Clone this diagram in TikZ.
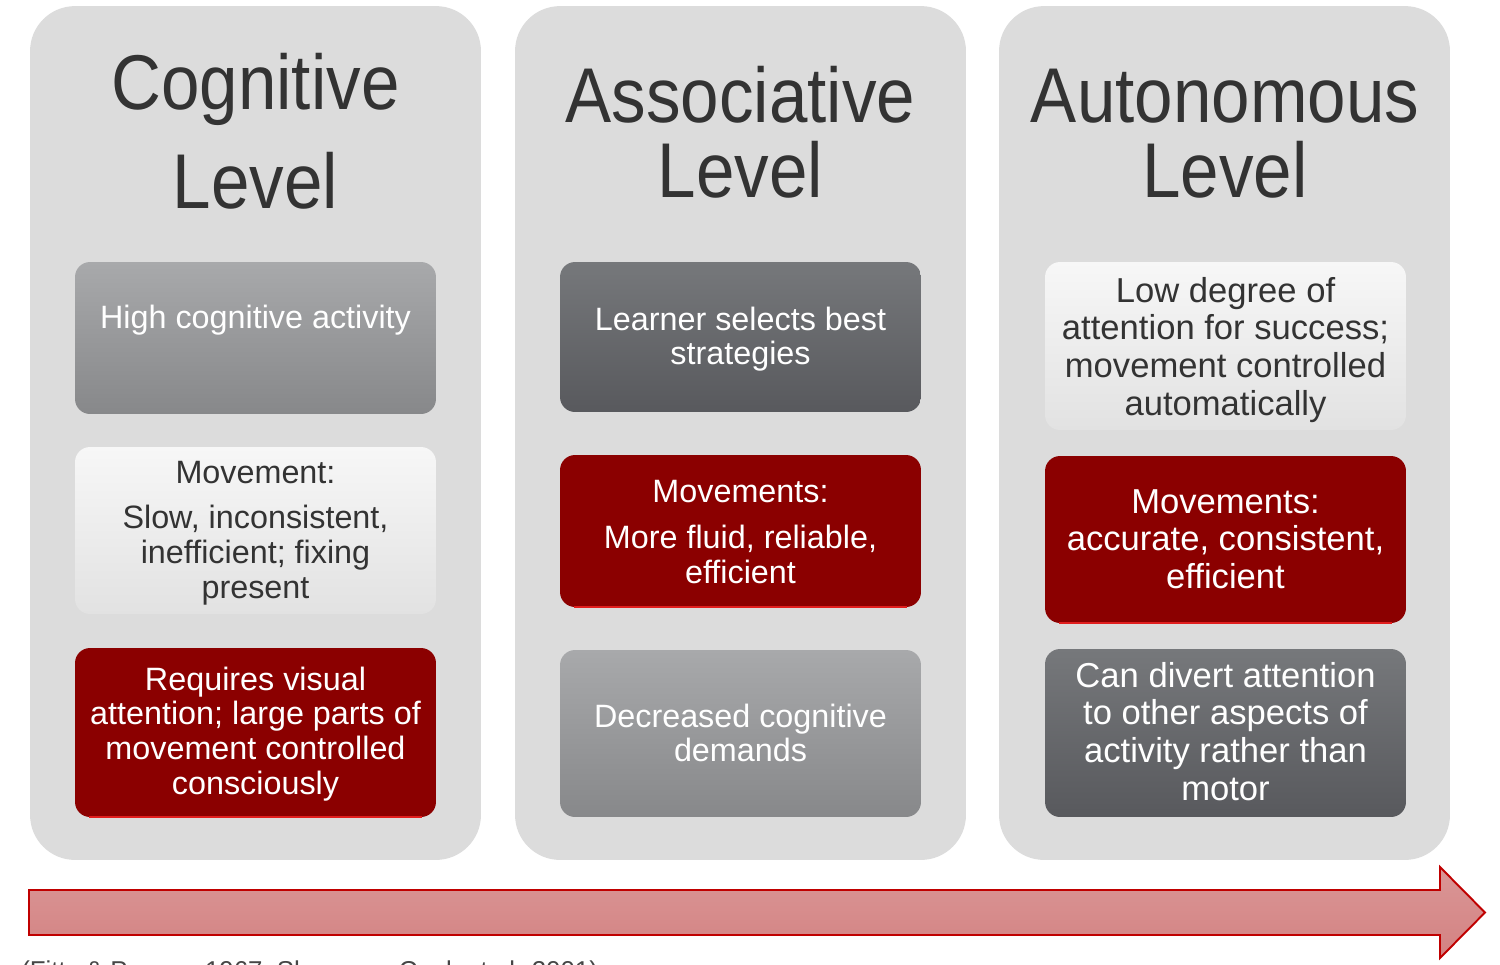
\documentclass[tikz,border=0pt]{standalone}
\usepackage{fontspec}
\setmainfont{Liberation Sans}
\newfontfamily\titlefont[FakeStretch=0.89]{Liberation Sans}
\usetikzlibrary{calc}
\definecolor{panelgray}{RGB}{220,220,220}
\definecolor{txtdark}{RGB}{51,51,51}
\definecolor{lgtop}{RGB}{168,169,171}
\definecolor{lgbot}{RGB}{135,136,138}
\definecolor{dgtop}{RGB}{118,120,123}
\definecolor{dgbot}{RGB}{88,89,93}
\definecolor{wtop}{RGB}{247,247,247}
\definecolor{wbot}{RGB}{226,226,226}
\definecolor{boxred}{RGB}{139,0,0}
\definecolor{edgered}{RGB}{225,30,30}
\definecolor{arrowtop}{RGB}{218,150,150}
\definecolor{arrowbot}{RGB}{211,130,130}
\definecolor{arrowline}{RGB}{192,0,0}
\definecolor{citegray}{RGB}{70,70,70}
\newcommand{\mlines}[1]{\begin{tabular}[t]{@{}c@{}}#1\end{tabular}}
\begin{document}
\begin{tikzpicture}[x=0.02cm,y=-0.02cm,
  panel/.style={fill=panelgray, rounded corners=0.9cm, minimum width=9.02cm, minimum height=17.08cm, inner sep=0},
  card/.style={rounded corners=0.3cm, minimum width=7.22cm, inner sep=0},
  lightcard/.style={card, top color=lgtop, bottom color=lgbot},
  darkcard/.style={card, top color=dgtop, bottom color=dgbot},
  whitecard/.style={card, top color=wtop, bottom color=wbot},
  redcard/.style={card, fill=boxred},
  redline/.style={draw=edgered, line width=1.1pt},
  titletext/.style={anchor=base, text=txtdark, inner sep=0, font=\titlefont\fontsize{44.2}{50}\selectfont},
  smalltext/.style={anchor=base, inner sep=0, font=\fontsize{18.4}{19.8}\selectfont},
  bigtext/.style={anchor=base, inner sep=0, font=\fontsize{19.7}{21.5}\selectfont},
  onlight/.style={text=txtdark},
  ondark/.style={text=white},
  arrowshape/.style={draw=arrowline, line width=1.1pt, top color=arrowtop, bottom color=arrowbot}
]
\useasboundingbox (0,0) rectangle (1500,964);
\clip (0,0) rectangle (1500,964);

% panels
\node[panel] (p1) at (255.5,433) {};
\node[panel] (p2) at (740.5,433) {};
\node[panel] (p3) at (1224.5,433) {};

% titles
\node[titletext] (t1a) at (255.5,109) {Cognitive};
\node[titletext] (t1b) at (255.5,208) {Level};
\node[titletext] (t2a) at (740.5,122) {Associative};
\node[titletext] (t2b) at (740.5,197) {Level};
\node[titletext] (t3a) at (1225,122) {Autonomous};
\node[titletext] (t3b) at (1225,197) {Level};

% cards, column 1
\node[lightcard, minimum height=3.04cm] (L1) at (255.5,338) {};
\node[whitecard, minimum height=3.34cm] (L2) at (255.5,530.5) {};
\node[redcard, minimum height=3.38cm] (L3) at (255.5,732.5) {};
\draw[redline] ($(L3.south west)+(14,-0.5)$) -- ($(L3.south east)+(-14,-0.5)$);

% cards, column 2
\node[darkcard, minimum height=3.0cm] (M1) at (740.5,337) {};
\node[redcard, minimum height=3.04cm] (M2) at (740.5,531) {};
\node[lightcard, minimum height=3.34cm] (M3) at (740.5,733.5) {};
\draw[redline] ($(M2.south west)+(14,-0.5)$) -- ($(M2.south east)+(-14,-0.5)$);

% cards, column 3
\node[whitecard, minimum height=3.36cm] (R1) at (1225.5,346) {};
\node[redcard, minimum height=3.34cm] (R2) at (1225.5,539.5) {};
\node[darkcard, minimum height=3.36cm] (R3) at (1225.5,733) {};
\draw[redline] ($(R2.south west)+(14,-0.5)$) -- ($(R2.south east)+(-14,-0.5)$);

% texts, column 1
\node[smalltext, ondark] (L1t) at (255.5,328) {High cognitive activity};
\node[smalltext, onlight] (L2t) at (255.5,483) {\mlines{Movement:\\[6.2pt] Slow, inconsistent,\\ inefficient; fixing\\ present}};
\node[smalltext, ondark] (L3t) at (255.5,690) {\mlines{Requires visual\\ attention; large parts of\\ movement controlled\\ consciously}};

% texts, column 2
\node[smalltext, ondark] (M1t) at (740.5,330) {\mlines{Learner selects best\\ strategies}};
\node[smalltext, ondark] (M2t) at (740.5,502) {\mlines{Movements:\\[6.8pt] More fluid, reliable,\\ efficient}};
\node[smalltext, ondark] (M3t) at (740.5,727) {\mlines{Decreased cognitive\\ demands}};

% texts, column 3
\node[bigtext, onlight] (R1t) at (1225.5,302) {\mlines{Low degree of\\ attention for success;\\ movement controlled\\ automatically}};
\node[bigtext, ondark] (R2t) at (1225.5,513) {\mlines{Movements:\\ accurate, consistent,\\ efficient}};
\node[bigtext, ondark] (R3t) at (1225.5,687) {\mlines{Can divert attention\\ to other aspects of\\ activity rather than\\ motor}};

% progression arrow
\path[arrowshape] (29,890) -- (1440,890) -- (1440,867) -- (1485,912.5) -- (1440,958) -- (1440,935) -- (29,935) -- cycle;

% citation (cut off by the lower edge, as in the reference)
\node[anchor=base west, inner sep=0, text=citegray, font=\fontsize{14.7}{16}\selectfont] (cite) at (21,979) {(Fitts \& Posner, 1967; Shumway-Cook et al. 2001)};
\end{tikzpicture}
\end{document}
